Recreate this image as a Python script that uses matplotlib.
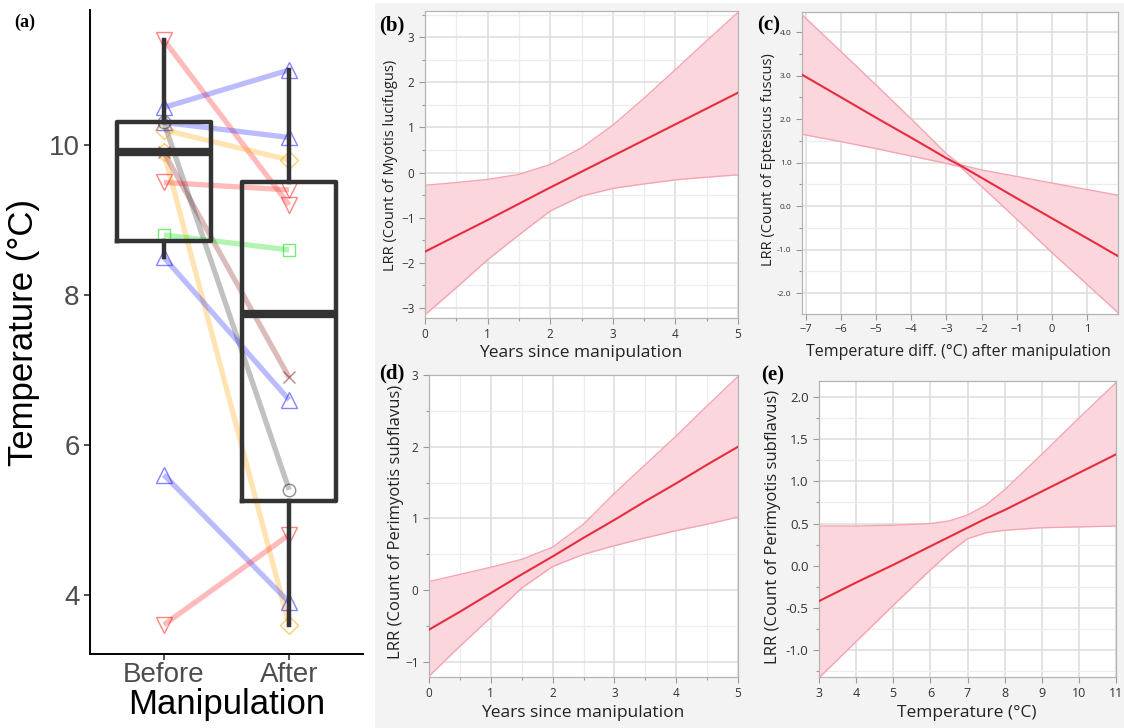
import matplotlib
matplotlib.use("Agg")
import matplotlib.pyplot as plt
import numpy as np
from matplotlib.patches import Rectangle
from matplotlib.ticker import MultipleLocator

# ---- panel (a): paired temperatures before / after manipulation ----
groups = ["Before", "After"]
temp_before = [11.4, 10.5, 10.3, 10.2, 9.9, 9.9, 10.3, 9.5, 8.8, 8.5, 5.6, 3.6]
temp_after = [9.2, 11.0, 10.1, 9.8, 3.6, 6.9, 5.4, 9.4, 8.6, 6.6, 3.9, 4.8]
site_colors = ["#ff2020", "#2020ff", "#2020ff", "#ffa500", "#ffa500", "#8b2020",
               "#333333", "#ff2020", "#00e000", "#2020ff", "#2020ff", "#ff2020"]
site_markers = ["v", "^", "^", "D", "D", "x", "o", "v", "s", "^", "^", "v"]

# ---- panels (b)-(e): fitted LRR with confidence band ----
b_x = [0, 0.5, 1, 1.5, 2, 2.5, 3, 3.5, 4, 4.5, 5]
b_fit = [-1.75, -1.40, -1.05, -0.69, -0.33, 0.02, 0.37, 0.72, 1.07, 1.42, 1.77]
b_hi = [-0.28, -0.22, -0.15, -0.04, 0.18, 0.55, 1.05, 1.65, 2.28, 2.92, 3.55]
b_lo = [-3.15, -2.55, -1.93, -1.38, -0.85, -0.52, -0.35, -0.25, -0.16, -0.10, -0.05]

c_x = [-7.11, -6, -5, -4, -3, -2.6, -2, -1, 0, 1, 1.88]
c_fit = [3.02, 2.50, 2.03, 1.57, 1.10, 0.93, 0.65, 0.18, -0.28, -0.74, -1.15]
c_hi = [4.40, 3.55, 2.78, 2.00, 1.20, 0.95, 0.83, 0.68, 0.53, 0.38, 0.25]
c_lo = [1.65, 1.48, 1.32, 1.15, 0.98, 0.90, 0.45, -0.30, -1.07, -1.80, -2.45]

d_x = [0, 0.5, 1, 1.5, 2, 2.5, 3, 3.5, 4, 4.5, 5]
d_fit = [-0.55, -0.30, -0.04, 0.22, 0.47, 0.73, 0.98, 1.24, 1.49, 1.75, 2.00]
d_hi = [0.12, 0.22, 0.32, 0.43, 0.60, 0.92, 1.35, 1.75, 2.15, 2.57, 2.98]
d_lo = [-1.20, -0.78, -0.38, 0.03, 0.33, 0.50, 0.62, 0.73, 0.83, 0.92, 1.02]

e_x = [3, 4, 5, 6, 6.5, 7, 7.5, 8, 9, 10, 11]
e_fit = [-0.42, -0.20, 0.01, 0.23, 0.34, 0.45, 0.56, 0.66, 0.88, 1.10, 1.32]
e_hi = [0.47, 0.47, 0.48, 0.50, 0.53, 0.60, 0.72, 0.90, 1.32, 1.75, 2.17]
e_lo = [-1.33, -0.90, -0.47, -0.05, 0.15, 0.32, 0.39, 0.42, 0.45, 0.46, 0.47]

W, H = 1124, 728
fig = plt.figure(figsize=(W / 100, H / 100), dpi=100)
fig.patch.set_facecolor("white")


def add_ax(left, top, right, bottom):
    return fig.add_axes([left / W, 1 - bottom / H, (right - left) / W, (bottom - top) / H])


def px(x, y):
    return x / W, 1 - y / H


# light gray background behind the JMP panels
fig.patches.append(Rectangle(px(375, 728), 749 / W, 725 / H, transform=fig.transFigure,
                             facecolor="#f3f3f3", edgecolor="none", zorder=-10))

# ---------------- panel (a) ----------------
ax = add_ax(90, 10, 363, 654)
pos = [1, 2]
for i in range(len(temp_before)):
    ax.plot(pos, [temp_before[i], temp_after[i]], color=site_colors[i], alpha=0.3,
            lw=3.8, solid_capstyle="butt", zorder=2)
    ax.plot(pos, [temp_before[i], temp_after[i]], ls="none", marker=site_markers[i],
            ms=12 if site_markers[i] in "^v" else 9, mfc="none", mec=site_colors[i],
            mew=1.0, alpha=0.55, zorder=3)

bp = ax.boxplot([temp_before, temp_after], positions=pos, widths=0.75, whis=1.5,
                showfliers=False, showcaps=False, patch_artist=False, zorder=4)
for k in ["boxes", "whiskers"]:
    for art in bp[k]:
        art.set_color("#333333")
        art.set_linewidth(3.2)
for art in bp["medians"]:
    art.set_color("#333333")
    art.set_linewidth(6)

ax.set_xlim(0.41, 2.59)
ax.set_ylim(3.21, 11.8)
ax.set_yticks([4, 6, 8, 10])
ax.set_xticks(pos)
ax.set_xticklabels(groups)
for s in ["top", "right"]:
    ax.spines[s].set_visible(False)
for s in ["left", "bottom"]:
    ax.spines[s].set_linewidth(1.4)
    ax.spines[s].set_color("black")
ax.tick_params(labelsize=20, colors="#333333", labelcolor="#4d4d4d", length=4, width=1.2)
ax.tick_params(axis="x", pad=2)
ax.set_ylabel("Temperature (°C)", fontsize=25, family="Liberation Sans", labelpad=6)
ax.set_xlabel("Manipulation", fontsize=25, family="Liberation Sans", labelpad=0)
for lab in ax.get_xticklabels() + ax.get_yticklabels():
    lab.set_family("Liberation Sans")
fig.text(*px(14, 27), "(a)", fontsize=13, fontweight="bold", family="Liberation Serif")


# ---------------- panels (b)-(e) ----------------
def jmp_panel(box, x, fit, lo, hi, xlim, ylim, xmaj, xmin, ymaj, ymin, yfmt, xfs, yfs):
    a = add_ax(*box)
    a.set_facecolor("white")
    a.fill_between(x, lo, hi, color="#fbd6dd", lw=0, zorder=2)
    a.plot(x, hi, color="#f4a5b3", lw=1.0, zorder=3)
    a.plot(x, lo, color="#f4a5b3", lw=1.0, zorder=3)
    a.plot(x, fit, color="#e82c3e", lw=1.5, zorder=4)
    a.set_xlim(*xlim)
    a.set_ylim(*ylim)
    a.xaxis.set_major_locator(MultipleLocator(xmaj))
    a.yaxis.set_major_locator(MultipleLocator(ymaj))
    if xmin:
        a.xaxis.set_minor_locator(MultipleLocator(xmin))
    a.yaxis.set_minor_locator(MultipleLocator(ymin))
    if yfmt:
        a.yaxis.set_major_formatter(plt.FormatStrFormatter(yfmt))
    a.set_axisbelow(True)
    a.grid(which="major", color="#dcdcdc", lw=1.1)
    a.grid(which="minor", color="#ececec", lw=0.9)
    for s in a.spines.values():
        s.set_color("#b4b4b4")
        s.set_linewidth(0.9)
    a.tick_params(which="both", colors="#9a9a9a", labelcolor="#333333",
                  length=4, width=0.8)
    a.tick_params(axis="x", labelsize=xfs)
    a.tick_params(axis="y", labelsize=yfs)
    a.tick_params(which="minor", length=2.5)
    for lab in a.get_xticklabels() + a.get_yticklabels():
        lab.set_family("Open Sans")
    return a


jmp_panel((425, 11, 738, 318), b_x, b_fit, b_lo, b_hi, (0, 5), (-3.22, 3.58),
          1, 0.5, 1, 0.5, None, 8.5, 8.5)
jmp_panel((802, 12, 1118, 314), c_x, c_fit, c_lo, c_hi, (-7.11, 1.88), (-2.48, 4.46),
          1, None, 1, 0.5, "%.1f", 8, 6)
jmp_panel((429, 375, 738, 677), d_x, d_fit, d_lo, d_hi, (0, 5), (-1.21, 3.0),
          1, 0.5, 1, 0.5, None, 8.5, 8.5)
jmp_panel((819, 381, 1116, 677), e_x, e_fit, e_lo, e_hi, (3, 11), (-1.32, 2.19),
          1, None, 0.5, 0.25, "%.1f", 9, 9.5)

lab_font = dict(family="Open Sans", color="#222222")
fig.text(*px(390, 165), "LRR (Count of Myotis lucifugus)", rotation=90, ha="center",
         va="center", fontsize=10.5, **lab_font)
fig.text(*px(768, 160), "LRR (Count of Eptesicus fuscus)", rotation=90, ha="center",
         va="center", fontsize=10.5, **lab_font)
fig.text(*px(396, 522), "LRR (Count of Perimyotis subflavus)", rotation=90, ha="center",
         va="center", fontsize=12, **lab_font)
fig.text(*px(773, 527), "LRR (Count of Perimyotis subflavus)", rotation=90, ha="center",
         va="center", fontsize=12, **lab_font)

fig.text(*px(581, 353), "Years since manipulation", ha="center", va="center",
         fontsize=12.5, **lab_font)
fig.text(*px(958, 352), "Temperature diff. (°C) after manipulation", ha="center",
         va="center", fontsize=11.5, **lab_font)
fig.text(*px(583, 713), "Years since manipulation", ha="center", va="center",
         fontsize=12.5, **lab_font)
fig.text(*px(967, 713), "Temperature (°C)", ha="center", va="center",
         fontsize=12.5, **lab_font)

for name, (x, y) in {"(b)": (379, 25), "(c)": (757, 25), "(d)": (379, 373), "(e)": (761, 375)}.items():
    fig.text(*px(x, y), name, fontsize=15, fontweight="bold", family="Liberation Serif",
             va="center")

fig.savefig("out.png", dpi=100)
